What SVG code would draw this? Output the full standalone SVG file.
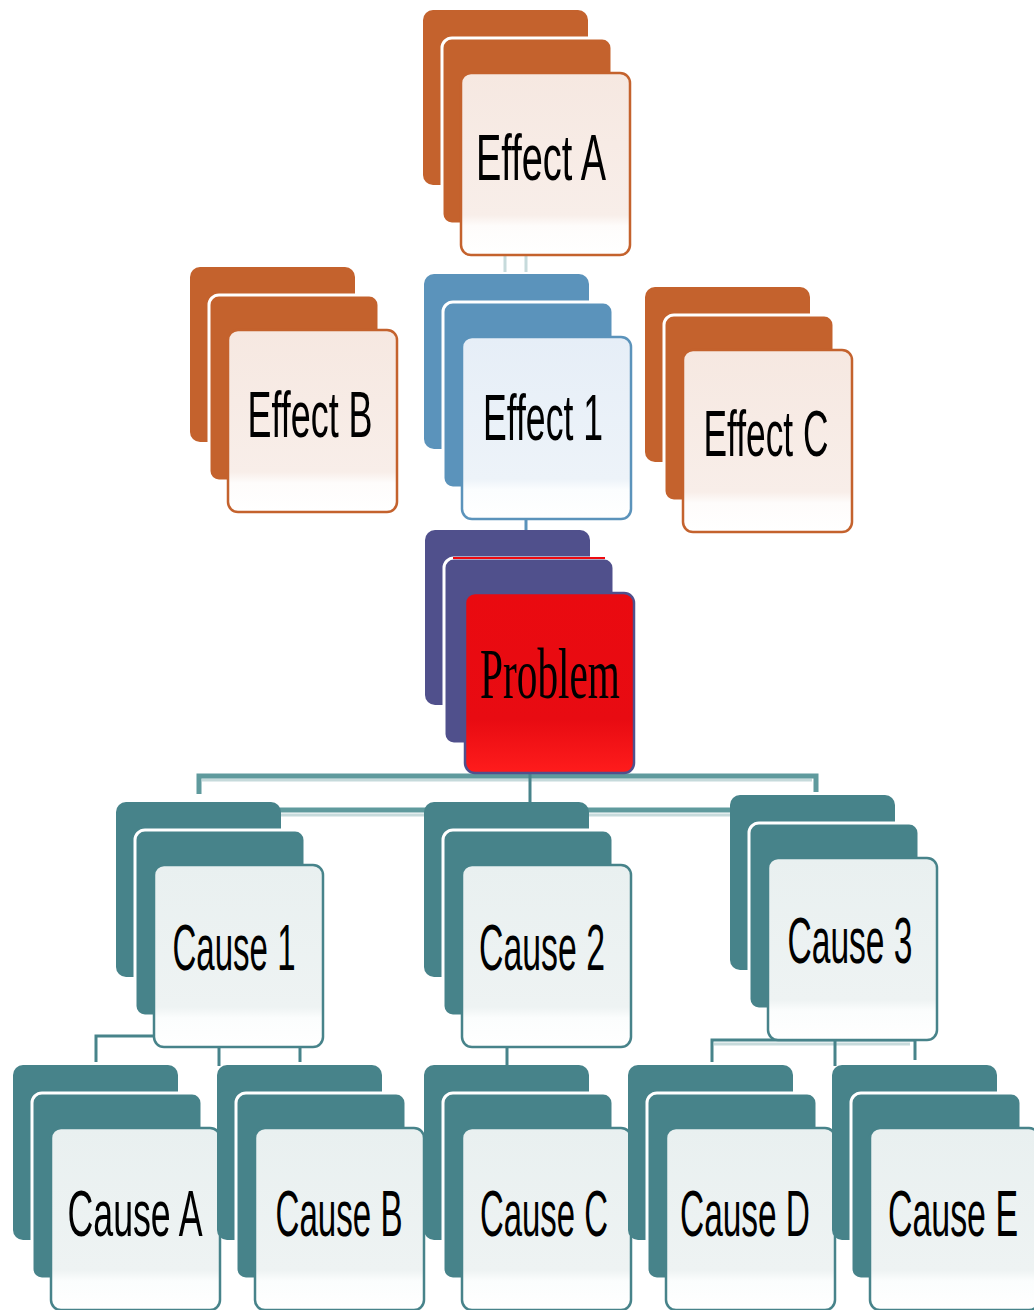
<svg xmlns="http://www.w3.org/2000/svg" width="1034" height="1310" viewBox="0 0 1034 1310">
  <defs>
    <linearGradient id="gOrange" x1="0" y1="0" x2="0" y2="1">
      <stop offset="0" stop-color="#f6e8e1"/>
      <stop offset="0.78" stop-color="#f8eee9"/>
      <stop offset="0.84" stop-color="#fefcfb"/>
      <stop offset="1" stop-color="#ffffff"/>
    </linearGradient>
    <linearGradient id="gBlue" x1="0" y1="0" x2="0" y2="1">
      <stop offset="0" stop-color="#e6eef7"/>
      <stop offset="0.78" stop-color="#edf3f9"/>
      <stop offset="0.84" stop-color="#fbfdfe"/>
      <stop offset="1" stop-color="#ffffff"/>
    </linearGradient>
    <linearGradient id="gTeal" x1="0" y1="0" x2="0" y2="1">
      <stop offset="0" stop-color="#e9f0f0"/>
      <stop offset="0.78" stop-color="#eef3f3"/>
      <stop offset="0.84" stop-color="#fbfdfd"/>
      <stop offset="1" stop-color="#ffffff"/>
    </linearGradient>
    <linearGradient id="gRed" x1="0" y1="0" x2="0" y2="1">
      <stop offset="0" stop-color="#ea0a10"/>
      <stop offset="0.7" stop-color="#e80b12"/>
      <stop offset="1" stop-color="#ff1c1c"/>
    </linearGradient>
  </defs>
  <style>
    .back { stroke: none; }
    .mid { stroke: #ffffff; stroke-width: 3; }
    .front { stroke-width: 2.5; }
    .orange .back, .orange .mid { fill: #c4622d; }
    .orange .front { fill: url(#gOrange); stroke: #c4622d; }
    .blue .back, .blue .mid { fill: #5b93bb; }
    .blue .front { fill: url(#gBlue); stroke: #5b93bb; }
    .teal .back, .teal .mid { fill: #47838a; }
    .teal .front { fill: url(#gTeal); stroke: #47838a; }
    .navy .back, .navy .mid { fill: #50508c; }
    .navy .front { fill: url(#gRed); stroke: #50508c; }
    /* tall condensed lettering: small font stretched vertically */
    .label { font-family: "Liberation Sans Narrow", "Liberation Sans", Arial, sans-serif; font-size: 41px; fill: #000000; text-anchor: middle; }
    .serif { font-family: "Liberation Serif", "Times New Roman", serif; font-size: 41px; }
    .link { fill: none; stroke: #5f9a9d; stroke-width: 5; }
    .link-light { fill: none; stroke: #c6dadb; stroke-width: 3; }
    .link-thin { fill: none; stroke: #47838a; stroke-width: 3; }
  </style>

  <!-- connectors -->
  <g id="connectors">
    <path class="link-light" d="M505,256 V272 M526,256 V272"/>
    <path fill="none" stroke="#5b93bb" stroke-width="3" d="M526,517 V531"/>
    <path class="link-light" d="M202,780 H812"/>
    <path class="link" d="M199,794 V776 H816 V792"/>
    <path class="link-light" d="M280,815 H730"/>
    <path class="link" d="M280,810 H730"/>
    <path class="link-thin" d="M530,772 V802"/>
    <path class="link-thin" d="M96,1062 V1036 H300 V1062"/>
    <path class="link-thin" d="M219,1045 V1066"/>
    <path class="link-thin" d="M507,1048 V1066"/>
    <path class="link-light" d="M714,1044 H910"/>
    <path class="link-thin" d="M712,1062 V1040 H915 V1060"/>
    <path class="link-thin" d="M835,1040 V1066"/>
  </g>

  <!-- effects -->
  <g id="effect-a" class="orange" transform="translate(423,10)">
    <rect class="back" x="0" y="0" width="165" height="175" rx="10"/>
    <rect class="mid" x="19" y="28" width="170" height="186" rx="10"/>
    <rect class="front" x="38" y="63" width="169" height="182" rx="10"/>
    <text class="label" transform="translate(118,170) scale(1,1.6)" textLength="130" lengthAdjust="spacingAndGlyphs">Effect A</text>
  </g>
  <g id="effect-b" class="orange" transform="translate(190,267)">
    <rect class="back" x="0" y="0" width="165" height="175" rx="10"/>
    <rect class="mid" x="19" y="28" width="170" height="186" rx="10"/>
    <rect class="front" x="38" y="63" width="169" height="182" rx="10"/>
    <text class="label" transform="translate(120,170) scale(1,1.6)" textLength="125" lengthAdjust="spacingAndGlyphs">Effect B</text>
  </g>
  <g id="effect-1" class="blue" transform="translate(424,274)">
    <rect class="back" x="0" y="0" width="165" height="175" rx="10"/>
    <rect class="mid" x="19" y="28" width="170" height="186" rx="10"/>
    <rect class="front" x="38" y="63" width="169" height="182" rx="10"/>
    <text class="label" transform="translate(119,166) scale(1,1.6)" textLength="120" lengthAdjust="spacingAndGlyphs">Effect 1</text>
  </g>
  <g id="effect-c" class="orange" transform="translate(645,287)">
    <rect class="back" x="0" y="0" width="165" height="175" rx="10"/>
    <rect class="mid" x="19" y="28" width="170" height="186" rx="10"/>
    <rect class="front" x="38" y="63" width="169" height="182" rx="10"/>
    <text class="label" transform="translate(121,169) scale(1,1.6)" textLength="125" lengthAdjust="spacingAndGlyphs">Effect C</text>
  </g>

  <!-- problem -->
  <g id="problem" class="navy" transform="translate(425,530)">
    <rect class="back" x="0" y="0" width="165" height="175" rx="10"/>
    <rect class="mid" x="19" y="28" width="170" height="186" rx="10"/>
    <path d="M28,28 H180" stroke="#ee0a10" stroke-width="2"/>
    <rect class="front" x="40" y="63" width="169" height="180" rx="10"/>
    <text class="label serif" transform="translate(125,168) scale(1,1.75)" textLength="140" lengthAdjust="spacingAndGlyphs">Problem</text>
  </g>

  <!-- causes -->
  <g id="cause-1" class="teal" transform="translate(116,802)">
    <rect class="back" x="0" y="0" width="165" height="175" rx="10"/>
    <rect class="mid" x="19" y="28" width="170" height="186" rx="10"/>
    <rect class="front" x="38" y="63" width="169" height="182" rx="10"/>
    <text class="label" transform="translate(118,168) scale(1,1.6)" textLength="123" lengthAdjust="spacingAndGlyphs">Cause 1</text>
  </g>
  <g id="cause-2" class="teal" transform="translate(424,802)">
    <rect class="back" x="0" y="0" width="165" height="175" rx="10"/>
    <rect class="mid" x="19" y="28" width="170" height="186" rx="10"/>
    <rect class="front" x="38" y="63" width="169" height="182" rx="10"/>
    <text class="label" transform="translate(118,168) scale(1,1.6)" textLength="126" lengthAdjust="spacingAndGlyphs">Cause 2</text>
  </g>
  <g id="cause-3" class="teal" transform="translate(730,795)">
    <rect class="back" x="0" y="0" width="165" height="175" rx="10"/>
    <rect class="mid" x="19" y="28" width="170" height="186" rx="10"/>
    <rect class="front" x="38" y="63" width="169" height="182" rx="10"/>
    <text class="label" transform="translate(120,168) scale(1,1.6)" textLength="125" lengthAdjust="spacingAndGlyphs">Cause 3</text>
  </g>

  <g id="cause-a" class="teal" transform="translate(13,1065)">
    <rect class="back" x="0" y="0" width="165" height="175" rx="10"/>
    <rect class="mid" x="19" y="28" width="170" height="186" rx="10"/>
    <rect class="front" x="38" y="63" width="169" height="182" rx="10"/>
    <text class="label" transform="translate(122,171) scale(1,1.6)" textLength="135" lengthAdjust="spacingAndGlyphs">Cause A</text>
  </g>
  <g id="cause-b" class="teal" transform="translate(217,1065)">
    <rect class="back" x="0" y="0" width="165" height="175" rx="10"/>
    <rect class="mid" x="19" y="28" width="170" height="186" rx="10"/>
    <rect class="front" x="38" y="63" width="169" height="182" rx="10"/>
    <text class="label" transform="translate(122,171) scale(1,1.6)" textLength="127" lengthAdjust="spacingAndGlyphs">Cause B</text>
  </g>
  <g id="cause-c" class="teal" transform="translate(424,1065)">
    <rect class="back" x="0" y="0" width="165" height="175" rx="10"/>
    <rect class="mid" x="19" y="28" width="170" height="186" rx="10"/>
    <rect class="front" x="38" y="63" width="169" height="182" rx="10"/>
    <text class="label" transform="translate(120,171) scale(1,1.6)" textLength="128" lengthAdjust="spacingAndGlyphs">Cause C</text>
  </g>
  <g id="cause-d" class="teal" transform="translate(628,1065)">
    <rect class="back" x="0" y="0" width="165" height="175" rx="10"/>
    <rect class="mid" x="19" y="28" width="170" height="186" rx="10"/>
    <rect class="front" x="38" y="63" width="169" height="182" rx="10"/>
    <text class="label" transform="translate(117,171) scale(1,1.6)" textLength="130" lengthAdjust="spacingAndGlyphs">Cause D</text>
  </g>
  <g id="cause-e" class="teal" transform="translate(832,1065)">
    <rect class="back" x="0" y="0" width="165" height="175" rx="10"/>
    <rect class="mid" x="19" y="28" width="170" height="186" rx="10"/>
    <rect class="front" x="38" y="63" width="169" height="182" rx="10"/>
    <text class="label" transform="translate(121,171) scale(1,1.6)" textLength="130" lengthAdjust="spacingAndGlyphs">Cause E</text>
  </g>
</svg>
